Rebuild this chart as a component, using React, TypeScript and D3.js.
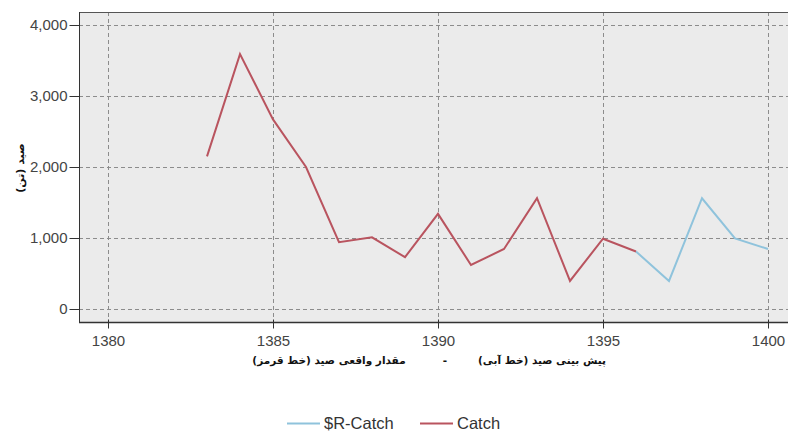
import React, { useEffect, useRef } from "react";
import * as d3 from "d3";

// years and values
const years = [1383, 1384, 1385, 1386, 1387, 1388, 1389, 1390, 1391, 1392, 1393, 1394, 1395, 1396];
const catchValues = [2150, 3590, 2670, 2000, 940, 1010, 730, 1340, 620, 845, 1560, 395, 990, 810];
const forecastYears = [1396, 1397, 1398, 1399, 1400];
const forecastValues = [810, 395, 1560, 995, 845];
const xTicks = [1380, 1385, 1390, 1395, 1400];
const yTicks = [0, 1000, 2000, 3000, 4000];

const W = 788, H = 431;

export default function App() {
  const ref = useRef<SVGSVGElement>(null);

  useEffect(() => {
    const svg = d3.select(ref.current);
    svg.selectAll("*").remove();

    const left = 79, right = 790, top = 12, bottom = 322;
    const x = d3.scaleLinear().domain([1380, 1400]).range([108, 768]);
    const y = d3.scaleLinear().domain([0, 4000]).range([309, 25]);

    // plot background
    svg.append("rect")
      .attr("x", left).attr("y", top)
      .attr("width", right - left).attr("height", bottom - top)
      .attr("fill", "#ebebeb");

    // grid
    const grid = svg.append("g").attr("stroke", "#8c8c8c").attr("stroke-dasharray", "4,3").attr("stroke-width", 1);
    grid.selectAll("line.h").data(yTicks).enter().append("line")
      .attr("x1", left).attr("x2", right)
      .attr("y1", (d) => Math.round(y(d)) + 0.5).attr("y2", (d) => Math.round(y(d)) + 0.5);
    grid.selectAll("line.v").data(xTicks).enter().append("line")
      .attr("y1", top).attr("y2", bottom)
      .attr("x1", (d) => Math.round(x(d)) + 0.5).attr("x2", (d) => Math.round(x(d)) + 0.5);

    // frame
    svg.append("line").attr("x1", left).attr("x2", right).attr("y1", top + 0.5).attr("y2", top + 0.5)
      .attr("stroke", "#555");

    // axes
    const yAxis = svg.append("g")
      .attr("transform", `translate(${left + 0.5},0)`)
      .call(d3.axisLeft(y).tickValues(yTicks).tickFormat(d3.format(",")).tickSize(10).tickPadding(2));
    yAxis.select(".domain").attr("d", `M0,${top}V${bottom}`).attr("stroke", "#333");
    const xAxis = svg.append("g")
      .attr("transform", `translate(0,${bottom + 0.5})`)
      .call(d3.axisBottom(x).tickValues(xTicks).tickFormat(d3.format("d")).tickSize(6).tickPadding(7));
    xAxis.select(".domain").attr("d", `M${left},0H${right}`).attr("stroke", "#333").attr("stroke-width", 1.5);
    xAxis.selectAll(".tick line").attr("y1", -3).attr("stroke", "#333");
    yAxis.selectAll(".tick line").attr("stroke", "#333");
    svg.selectAll(".tick text")
      .attr("font-family", "Liberation Sans, Arial, sans-serif")
      .attr("font-size", 15)
      .attr("fill", "#444");

    // lines
    const line = d3.line<[number, number]>().x((d) => x(d[0])).y((d) => y(d[1]));
    svg.append("path")
      .datum(forecastYears.map((yr, i) => [yr, forecastValues[i]] as [number, number]))
      .attr("d", line).attr("fill", "none").attr("stroke", "#8fc3dc").attr("stroke-width", 2);
    svg.append("path")
      .datum(years.map((yr, i) => [yr, catchValues[i]] as [number, number]))
      .attr("d", line).attr("fill", "none").attr("stroke", "#b9545f").attr("stroke-width", 2);

    // axis titles
    svg.append("text")
      .attr("transform", `translate(24,168) rotate(-90)`)
      .attr("text-anchor", "middle")
      .attr("font-family", "DejaVu Sans, sans-serif")
      .attr("font-weight", "bold").attr("font-size", 11).attr("fill", "#111")
      .text("صید (تن)");

    const xt = svg.append("g")
      .attr("font-family", "DejaVu Sans, sans-serif")
      .attr("font-weight", "bold").attr("font-size", 10.5).attr("fill", "#111")
      .attr("text-anchor", "middle");
    xt.append("text").attr("x", 329).attr("y", 364).attr("direction", "rtl").text("مقدار واقعی صید (خط قرمز)");
    xt.append("text").attr("x", 445).attr("y", 364).text("-");
    xt.append("text").attr("x", 542).attr("y", 364).attr("direction", "rtl").text("پیش بینی صید (خط آبی)");

    // legend
    const legend = [
      { name: "$R-Catch", color: "#8fc3dc", x0: 287 },
      { name: "Catch", color: "#b9545f", x0: 420 },
    ];
    const lg = svg.append("g");
    legend.forEach((l) => {
      lg.append("line").attr("x1", l.x0).attr("x2", l.x0 + 33).attr("y1", 423.5).attr("y2", 423.5)
        .attr("stroke", l.color).attr("stroke-width", 2);
      lg.append("text").attr("x", l.x0 + 37).attr("y", 429)
        .attr("font-family", "Liberation Sans, Arial, sans-serif")
        .attr("font-size", 16.5).attr("fill", "#333").text(l.name);
    });
  }, []);

  return (
    <div style={{ position: "absolute", left: 0, top: 0 }}>
      <svg ref={ref} width={W} height={H} style={{ display: "block", background: "#fff" }} />
    </div>
  );
}
